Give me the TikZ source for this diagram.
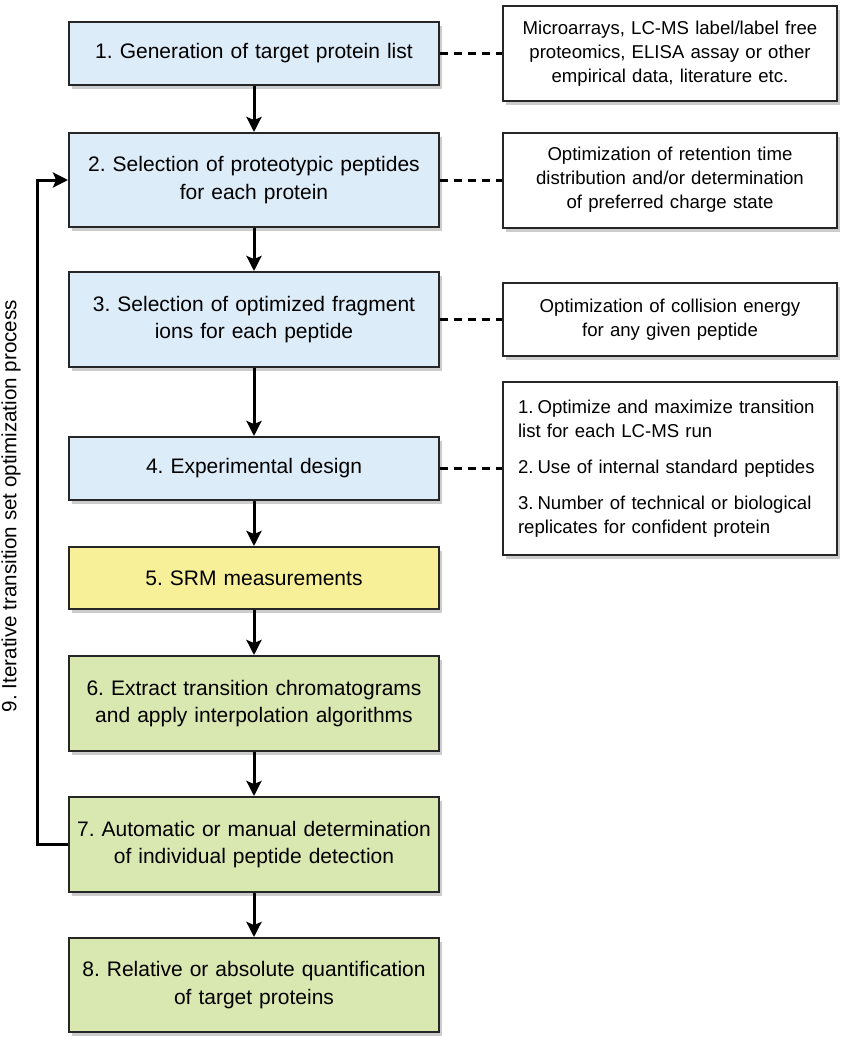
\documentclass[tikz,border=0pt]{standalone}
\usepackage{fontspec}
\setmainfont{Liberation Sans}
\usepackage{xcolor}
\usetikzlibrary{arrows.meta, positioning, shadows}
\definecolor{stepblue}{RGB}{221,236,249}
\definecolor{stepyellow}{RGB}{248,240,152}
\definecolor{stepgreen}{RGB}{217,231,176}
\frenchspacing
\tikzset{
	stepbox/.style={rectangle, draw=black!85, line width=2pt, minimum width=370pt, text width=362pt, inner xsep=2pt, align=center, font=\fontsize{21}{27.5}\selectfont, drop shadow={shadow xshift=3pt, shadow yshift=-4pt, opacity=0.4}},
	note/.style={rectangle, draw=black!85, line width=2pt, fill=white, minimum width=334pt, text width=318pt, inner xsep=4pt, align=center, font=\fontsize{18.6}{24}\selectfont, drop shadow={shadow xshift=3pt, shadow yshift=-4pt, opacity=0.4}},
	flow/.style={draw, line width=3pt, -{Stealth[length=15pt, width=15pt, inset=3pt]}},
	link/.style={draw, line width=3pt, dash pattern=on 8pt off 6pt}
}

\begin{document}
\begin{tikzpicture}[
		node distance=126.5pt,
		>=stealth
		]
		\useasboundingbox (0pt,0pt) rectangle (854pt,-1050pt);
		
		% Left column - workflow steps
		\node[stepbox, fill=stepblue, minimum height=63pt] (b1) at (254pt,-53.5pt) {1. Generation of target protein list};
		\node[stepbox, fill=stepblue, minimum height=94pt, below of=b1] (b2) {2. Selection of proteotypic peptides\\for each protein};
		\node[stepbox, fill=stepblue, minimum height=95pt, below of=b2, node distance=139.5pt] (b3) {3. Selection of optimized fragment\\ions for each peptide};
		\node[stepbox, fill=stepblue, minimum height=63pt, below of=b3, node distance=149pt] (b4) {4. Experimental design};
		\node[stepbox, fill=stepyellow, minimum height=62pt, below of=b4, node distance=109.5pt] (b5) {5. SRM measurements};
		\node[stepbox, fill=stepgreen, minimum height=95pt, below of=b5, node distance=125.5pt] (b6) {6. Extract transition chromatograms\\and apply interpolation algorithms};
		\node[stepbox, fill=stepgreen, minimum height=95pt, below of=b6, node distance=141pt] (b7) {7. Automatic or manual determination\\of individual peptide detection};
		\node[stepbox, fill=stepgreen, minimum height=94pt, below of=b7, node distance=140.5pt] (b8) {8. Relative or absolute quantification\\of target proteins};
		
		% Right column - notes
		\node[note, minimum height=95pt, right of=b1, node distance=416pt] (r1) {Microarrays, LC-MS label/label free\\proteomics, ELISA assay or other\\empirical data, literature etc.};
		\node[note, minimum height=95pt, right of=b2, node distance=416pt] (r2) {Optimization of retention time\\distribution and/or determination\\of preferred charge state};
		\node[note, minimum height=73pt, right of=b3, node distance=416pt] (r3) {Optimization of collision energy\\for any given peptide};
		\node[note, minimum height=173pt, right of=b4, node distance=416pt, align=left, text width=304pt] (r4) {%
			\hangindent=1.05em\hangafter=1\makebox[1.05em][l]{1.}Optimize and maximize transition\\list for each LC-MS run\par\vspace{12pt}
			\hangindent=1.05em\hangafter=1\makebox[1.05em][l]{2.}Use of internal standard peptides\par\vspace{12pt}
			\hangindent=1.05em\hangafter=1\makebox[1.05em][l]{3.}Number of technical or biological\\replicates for confident protein\par};
		
		% Loop label
		\node[rotate=90, font=\fontsize{20.6}{25}\selectfont] (loop) at (11pt,-506pt) {9. Iterative transition set optimization process};
		
		% Arrows between steps
		\draw[flow] (b1) -- (b2);
		\draw[flow] (b2) -- (b3);
		\draw[flow] (b3) -- (b4);
		\draw[flow] (b4) -- (b5);
		\draw[flow] (b5) -- (b6);
		\draw[flow] (b6) -- (b7);
		\draw[flow] (b7) -- (b8);
		
		% Feedback loop
		\draw[flow] (b7.west) -- ++(-31pt,0) |- (b2.west);
		
		% Dashed links to notes
		\draw[link] (b1) -- (r1);
		\draw[link] (b2) -- (r2);
		\draw[link] (b3) -- (r3);
		\draw[link] (b4) -- (r4);
		
	\end{tikzpicture}
\end{document}
